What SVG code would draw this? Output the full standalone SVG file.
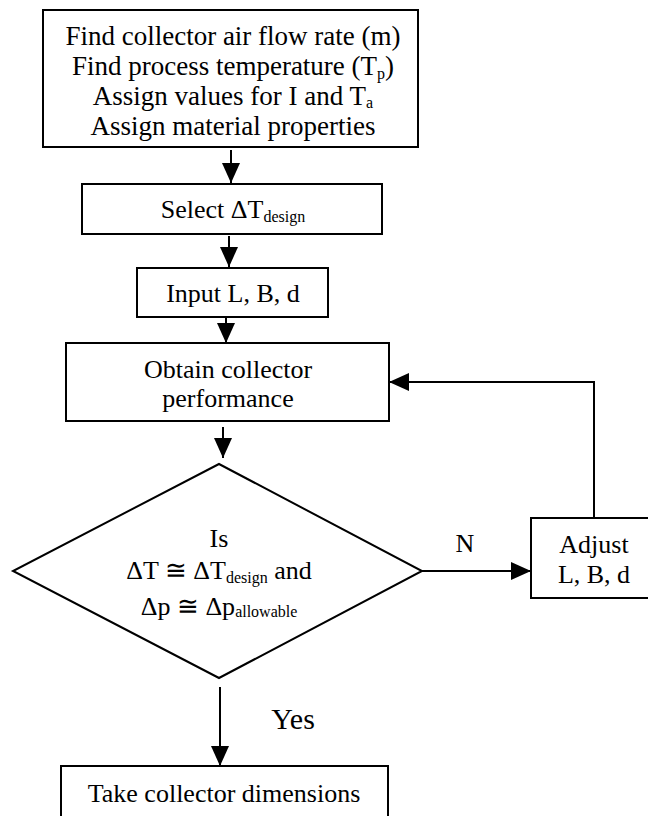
<svg xmlns="http://www.w3.org/2000/svg" width="648" height="816" viewBox="0 0 648 816">
<defs>
<marker id="ah" markerWidth="20" markerHeight="18" refX="20" refY="9" orient="auto" markerUnits="userSpaceOnUse">
<path d="M0,0 L20,9 L0,18 Z" fill="#000"/>
</marker>
<style>
.box{fill:#fff;stroke:#000;stroke-width:2}
.t{font-family:"Liberation Serif","Times New Roman",serif;font-size:26px;fill:#000;text-anchor:middle}
.sub{font-size:16px}
.ln{stroke:#000;stroke-width:2;fill:none}
</style>
</defs>
<rect width="648" height="816" fill="#fff"/>
<g id="connectors">
<line class="ln" x1="231" y1="150" x2="231" y2="183" marker-end="url(#ah)"/>
<line class="ln" x1="229" y1="236" x2="229" y2="267" marker-end="url(#ah)"/>
<line class="ln" x1="226" y1="314" x2="226" y2="343" marker-end="url(#ah)"/>
<line class="ln" x1="223" y1="427" x2="223" y2="458" marker-end="url(#ah)"/>
<line class="ln" x1="422" y1="571" x2="531" y2="571" marker-end="url(#ah)"/>
<polyline class="ln" points="594,518 594,382 389,382" marker-end="url(#ah)"/>
<line class="ln" x1="220" y1="687" x2="220" y2="766" marker-end="url(#ah)"/>
</g>
<g id="n_start">
<rect class="box" x="43" y="10" width="375" height="137"/>
<text class="t" x="233" y="45" style="font-size:27px">Find collector air flow rate (m)</text>
<text class="t" x="233" y="75" style="font-size:27px">Find process temperature (T<tspan class="sub" dy="4">p</tspan><tspan dy="-4">)</tspan></text>
<text class="t" x="233" y="105" style="font-size:27px">Assign values for I and T<tspan class="sub" dy="3">a</tspan></text>
<text class="t" x="233" y="135" style="font-size:27px">Assign material properties</text>
</g>
<g id="n_select">
<rect class="box" x="82" y="184" width="300" height="50"/>
<text class="t" x="233" y="218">Select ΔT<tspan class="sub" dy="4">design</tspan></text>
</g>
<g id="n_input">
<rect class="box" x="137" y="268" width="191" height="49"/>
<text class="t" x="233" y="302">Input L, B, d</text>
</g>
<g id="n_obtain">
<rect class="box" x="66" y="343" width="323" height="78"/>
<text class="t" x="228" y="378">Obtain collector</text>
<text class="t" x="228" y="407">performance</text>
</g>
<g id="n_decision">
<polygon class="box" points="219,464 422,571 219,678 13,571"/>
<text class="t" x="219" y="547">Is</text>
<text class="t" x="219" y="579">ΔT ≅ ΔT<tspan class="sub" dy="4">design</tspan><tspan dy="-4"> and</tspan></text>
<text class="t" x="219" y="615">Δp ≅ Δp<tspan class="sub" dy="2">allowable</tspan></text>
</g>
<g id="n_adjust">
<rect class="box" x="531" y="518" width="130" height="80"/>
<text class="t" x="594" y="553">Adjust</text>
<text class="t" x="594" y="583">L, B, d</text>
</g>
<g id="n_take">
<rect class="box" x="61" y="766" width="327" height="70"/>
<text class="t" x="224" y="802">Take collector dimensions</text>
</g>
<g id="labels">
<text class="t" x="465" y="552">N</text>
<text class="t" x="293" y="729" style="font-size:30px">Yes</text>
</g>
</svg>
